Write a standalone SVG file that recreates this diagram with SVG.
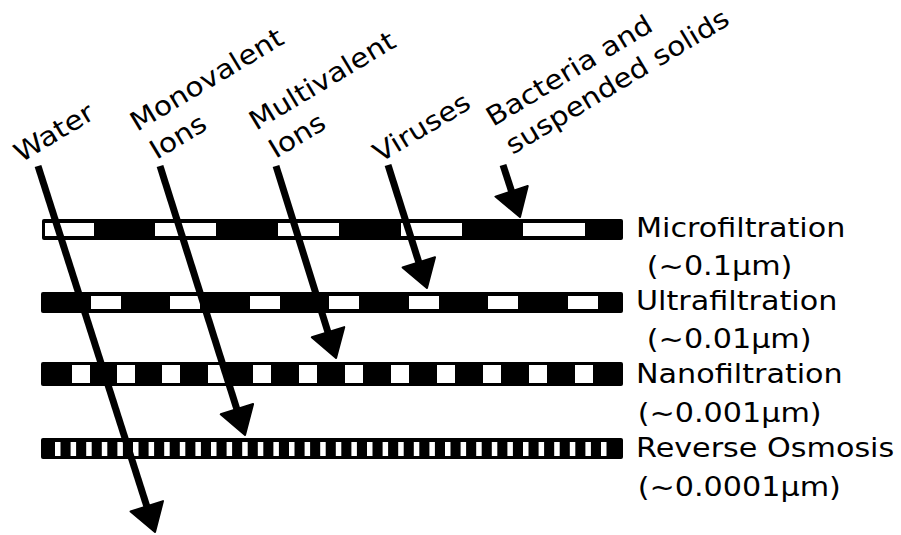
<svg xmlns="http://www.w3.org/2000/svg" width="901" height="535" viewBox="0 0 901 535">
<defs>
<style>
.bar{fill:#000}
.hole{fill:#fff}
.lbl{font-family:"DejaVu Sans",Verdana,sans-serif;font-size:26.5px;fill:#000}
.conn{stroke:#000;stroke-width:7;fill:none;stroke-linecap:butt}
</style>
<marker id="ah" viewBox="-2 -20 32 40" markerWidth="32" markerHeight="40" refX="0" refY="0" orient="auto" markerUnits="userSpaceOnUse">
<path d="M0,-17 L27,0 L0,17 Z" fill="#000" stroke="#000" stroke-width="2" stroke-linejoin="round"/>
</marker>
</defs>
<rect width="901" height="535" fill="#fff"/>

<g id="microfiltration">
<rect class="bar" x="42" y="219" width="581" height="21" rx="2"/>
<rect class="hole" x="45" y="223" width="49" height="13"/>
<rect class="hole" x="155" y="223" width="61" height="13"/>
<rect class="hole" x="278" y="223" width="61" height="13"/>
<rect class="hole" x="401" y="223" width="61" height="13"/>
<rect class="hole" x="523" y="223" width="62" height="13"/>
<text class="lbl" transform="translate(636,237) scale(1.14,1)"><tspan x="0" y="0">Microfiltration</tspan><tspan x="9.5" y="38">(~0.1µm)</tspan></text>
</g>

<g id="ultrafiltration">
<rect class="bar" x="41" y="292" width="582" height="21" rx="2"/>
<rect class="hole" x="91" y="296" width="30" height="13"/>
<rect class="hole" x="170" y="296" width="30" height="13"/>
<rect class="hole" x="250" y="296" width="30" height="13"/>
<rect class="hole" x="329" y="296" width="30" height="13"/>
<rect class="hole" x="409" y="296" width="30" height="13"/>
<rect class="hole" x="488" y="296" width="30" height="13"/>
<rect class="hole" x="568" y="296" width="30" height="13"/>
<text class="lbl" transform="translate(636,310) scale(1.14,1)"><tspan x="0" y="0">Ultrafiltration</tspan><tspan x="9.5" y="38">(~0.01µm)</tspan></text>
</g>

<g id="nanofiltration">
<rect class="bar" x="41" y="362" width="582" height="24" rx="2"/>
<rect class="hole" x="72" y="365" width="18" height="18"/>
<rect class="hole" x="117" y="365" width="18" height="18"/>
<rect class="hole" x="162" y="365" width="18" height="18"/>
<rect class="hole" x="208" y="365" width="18" height="18"/>
<rect class="hole" x="253" y="365" width="18" height="18"/>
<rect class="hole" x="299" y="365" width="18" height="18"/>
<rect class="hole" x="345" y="365" width="18" height="18"/>
<rect class="hole" x="391" y="365" width="18" height="18"/>
<rect class="hole" x="437" y="365" width="18" height="18"/>
<rect class="hole" x="483" y="365" width="18" height="18"/>
<rect class="hole" x="529" y="365" width="18" height="18"/>
<rect class="hole" x="575" y="365" width="18" height="18"/>
<text class="lbl" transform="translate(636,383) scale(1.14,1)"><tspan x="0" y="0">Nanofiltration</tspan><tspan x="1.5" y="39">(~0.001µm)</tspan></text>
</g>

<g id="reverse-osmosis">
<rect class="bar" x="41" y="438" width="582" height="21" rx="2"/>
<g class="hole">
<rect x="55" y="442" width="5.5" height="14"/><rect x="70.6" y="442" width="5.5" height="14"/><rect x="86.2" y="442" width="5.5" height="14"/><rect x="101.8" y="442" width="5.5" height="14"/>
<rect x="117.4" y="442" width="5.5" height="14"/><rect x="133" y="442" width="5.5" height="14"/><rect x="148.6" y="442" width="5.5" height="14"/><rect x="164.2" y="442" width="5.5" height="14"/>
<rect x="179.8" y="442" width="5.5" height="14"/><rect x="195.4" y="442" width="5.5" height="14"/><rect x="211" y="442" width="5.5" height="14"/><rect x="226.6" y="442" width="5.5" height="14"/>
<rect x="242.2" y="442" width="5.5" height="14"/><rect x="257.8" y="442" width="5.5" height="14"/><rect x="273.4" y="442" width="5.5" height="14"/><rect x="289" y="442" width="5.5" height="14"/>
<rect x="304.6" y="442" width="5.5" height="14"/><rect x="320.2" y="442" width="5.5" height="14"/><rect x="335.8" y="442" width="5.5" height="14"/><rect x="351.4" y="442" width="5.5" height="14"/>
<rect x="367" y="442" width="5.5" height="14"/><rect x="382.6" y="442" width="5.5" height="14"/><rect x="398.2" y="442" width="5.5" height="14"/><rect x="413.8" y="442" width="5.5" height="14"/>
<rect x="429.4" y="442" width="5.5" height="14"/><rect x="445" y="442" width="5.5" height="14"/><rect x="460.6" y="442" width="5.5" height="14"/><rect x="476.2" y="442" width="5.5" height="14"/>
<rect x="491.8" y="442" width="5.5" height="14"/><rect x="507.4" y="442" width="5.5" height="14"/><rect x="523" y="442" width="5.5" height="14"/><rect x="538.6" y="442" width="5.5" height="14"/>
<rect x="554.2" y="442" width="5.5" height="14"/><rect x="569.8" y="442" width="5.5" height="14"/><rect x="585.4" y="442" width="5.5" height="14"/><rect x="601" y="442" width="5.5" height="14"/>
</g>
<text class="lbl" transform="translate(636,457) scale(1.14,1)"><tspan x="0" y="0">Reverse Osmosis</tspan><tspan x="1.5" y="39">(~0.0001µm)</tspan></text>
</g>

<g id="water"><text class="lbl" transform="translate(21,163) rotate(-31) scale(1.12,1)">Water</text></g>
<g id="monovalent-ions"><text class="lbl" transform="translate(137,132) rotate(-31) scale(1.12,1)"><tspan x="0" y="0">Monovalent</tspan><tspan x="2" y="34">Ions</tspan></text></g>
<g id="multivalent-ions"><text class="lbl" transform="translate(256,131) rotate(-31) scale(1.12,1)"><tspan x="0" y="0">Multivalent</tspan><tspan x="2" y="34">Ions</tspan></text></g>
<g id="viruses"><text class="lbl" transform="translate(380,163) rotate(-31) scale(1.12,1)">Viruses</text></g>
<g id="bacteria"><text class="lbl" transform="translate(493,127) rotate(-31) scale(1.12,1)"><tspan x="0" y="0">Bacteria and</tspan><tspan x="2" y="34">suspended solids</tspan></text></g>

<g id="connectors">
<line class="conn" x1="38" y1="166" x2="146.8" y2="506.3" marker-end="url(#ah)"/>
<line class="conn" x1="160" y1="166" x2="236.9" y2="409.2" marker-end="url(#ah)"/>
<line class="conn" x1="276" y1="166" x2="328" y2="332.2" marker-end="url(#ah)"/>
<line class="conn" x1="388" y1="165" x2="418.8" y2="262.3" marker-end="url(#ah)"/>
<line class="conn" x1="503" y1="165" x2="511.6" y2="191.3" marker-end="url(#ah)"/>
</g>
</svg>
